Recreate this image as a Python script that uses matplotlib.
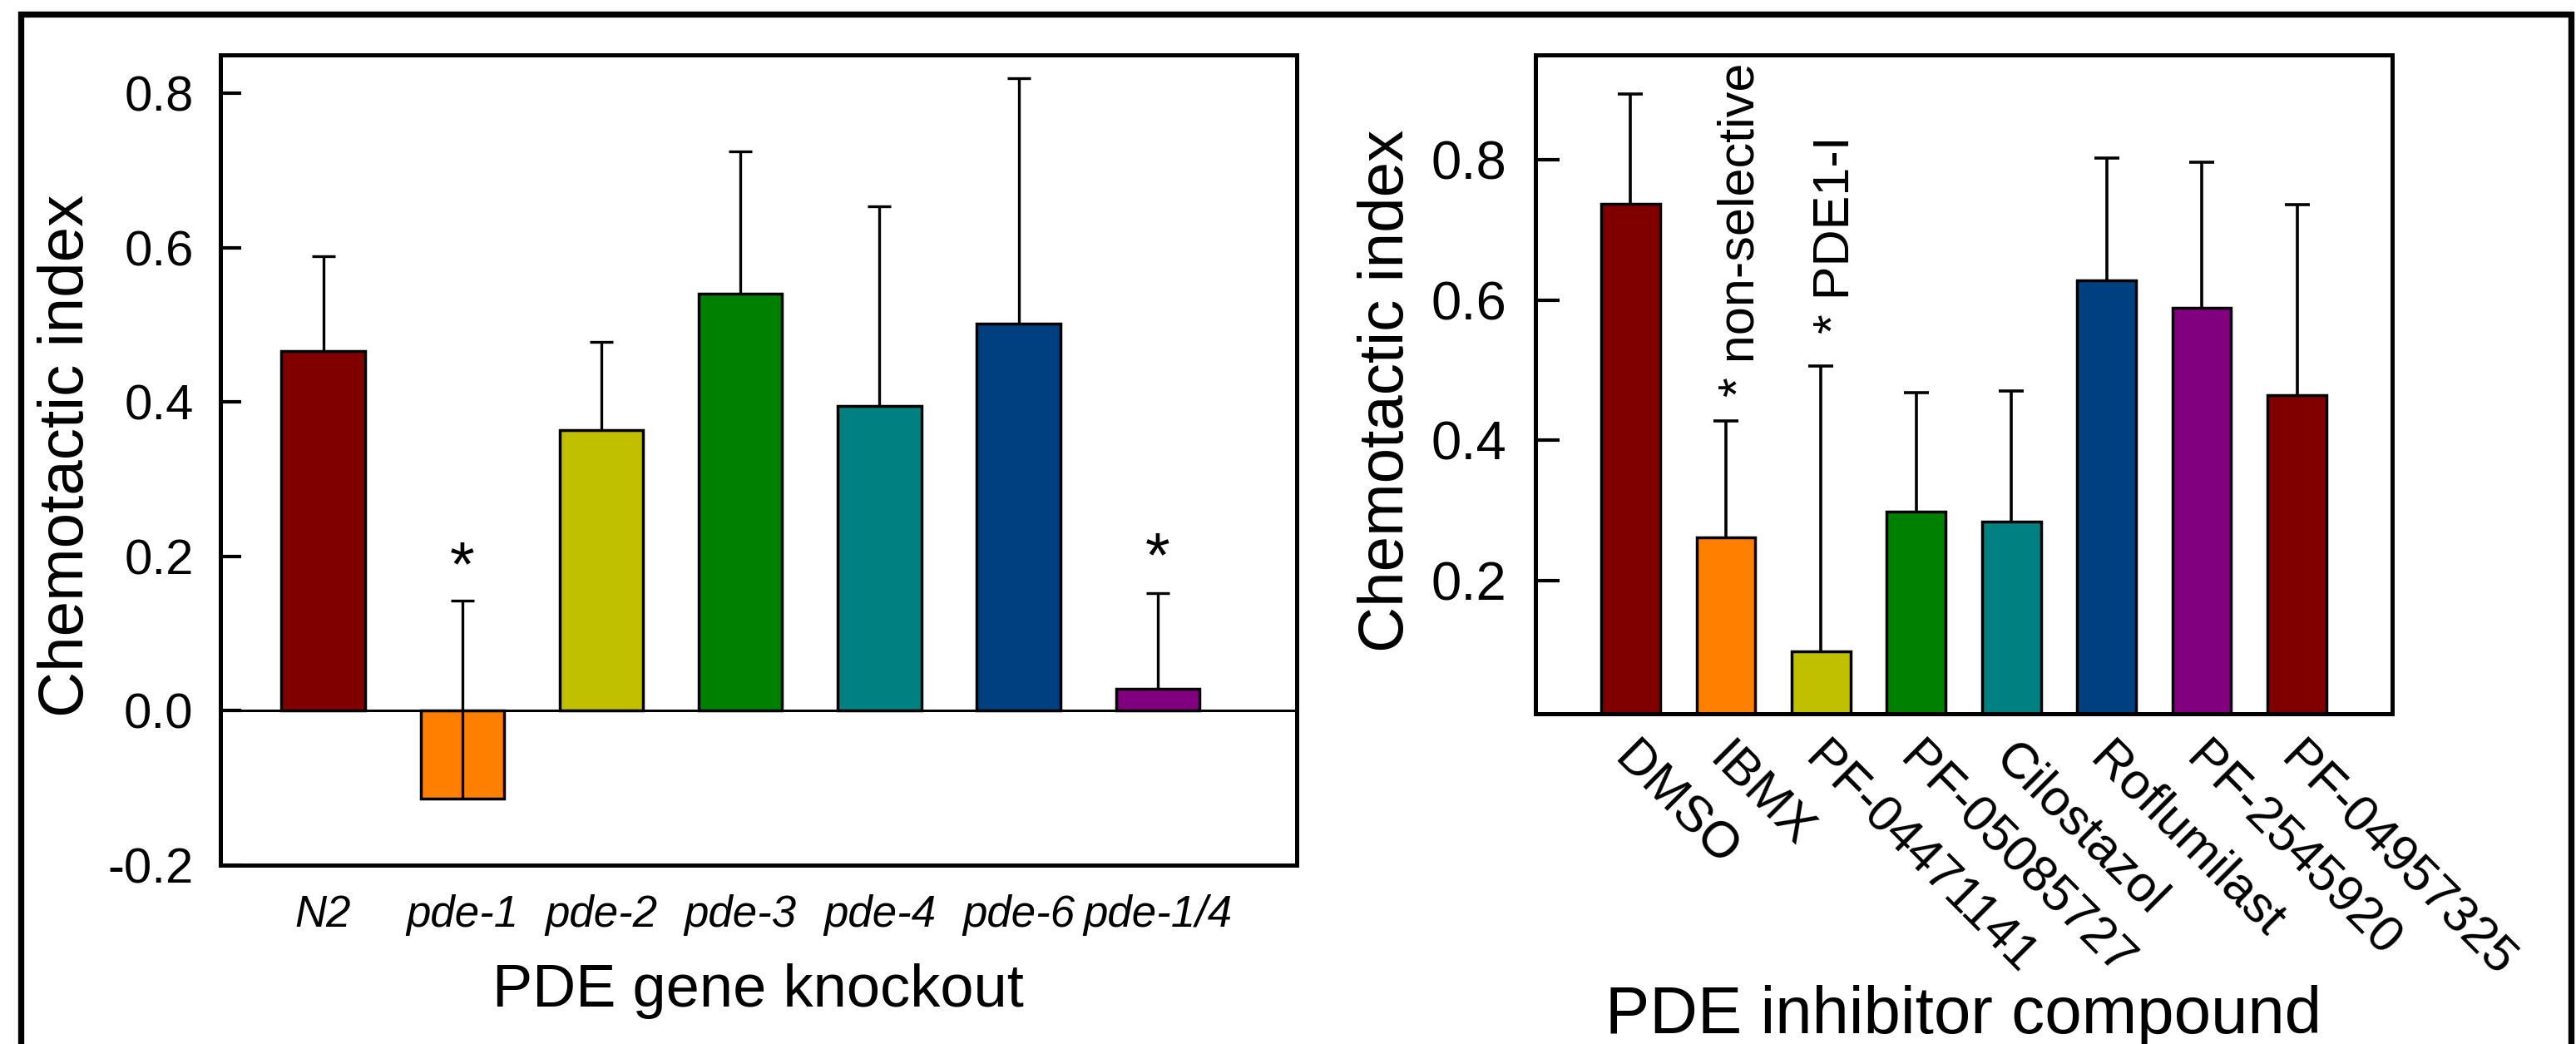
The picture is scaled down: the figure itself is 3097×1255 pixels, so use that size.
import matplotlib
matplotlib.use('Agg')
import matplotlib.pyplot as plt
import numpy as np
from matplotlib.lines import Line2D
from matplotlib.transforms import ScaledTranslation

plt.rcParams['font.family'] = ['Liberation Sans', 'DejaVu Sans']

# ---------------- Data: left panel (gene knockouts) ----------------
ko_labels = ['N2', 'pde-1', 'pde-2', 'pde-3', 'pde-4', 'pde-6', 'pde-1/4']
ko_values = [0.466, -0.114, 0.364, 0.540, 0.395, 0.501, 0.028]
ko_err_top = [0.589, 0.143, 0.478, 0.724, 0.653, 0.819, 0.152]
ko_colors = ['#800000', '#FF8000', '#C0C000', '#008000', '#008080', '#004080', '#800080']
ko_sig = ['', '*', '', '', '', '', '*']
ko_sig_y = [0.0, 0.163, 0.0, 0.0, 0.0, 0.0, 0.175]
ko_yticks = [-0.2, 0.0, 0.2, 0.4, 0.6, 0.8]
ko_yticklabels = ['-0.2', '0.0', '0.2', '0.4', '0.6', '0.8']

# ---------------- Data: right panel (inhibitors) ----------------
inh_labels = ['DMSO', 'IBMX', 'PF-04471141', 'PF-05085727', 'Cilostazol',
              'Roflumilast', 'PF-2545920', 'PF-04957325']
inh_values = [0.737, 0.262, 0.099, 0.299, 0.284, 0.628, 0.589, 0.465]
inh_err_top = [0.894, 0.428, 0.506, 0.468, 0.470, 0.802, 0.797, 0.736]
inh_colors = ['#800000', '#FF8000', '#C0C000', '#008000', '#008080',
              '#004080', '#800080', '#800000']
inh_notes = ['', '* non-selective', '* PDE1-I', '', '', '', '', '']
inh_note_y = [0.0, 0.462, 0.552, 0.0, 0.0, 0.0, 0.0, 0.0]
inh_yticks = [0.2, 0.4, 0.6, 0.8]
inh_yticklabels = ['0.2', '0.4', '0.6', '0.8']

W, H = 3097, 1255
fig = plt.figure(figsize=(W / 100, H / 100), dpi=100)
fig.patch.set_facecolor('white')

axL = fig.add_axes([264.5 / W, 1 - 1040 / H, (1559 - 264.5) / W, (1040 - 65.5) / H])
axR = fig.add_axes([1846 / W, 1 - 857.6 / H, (2876 - 1846) / W, (857.6 - 65.5) / H])


def draw_bars(ax, values, tops, colors, width, capsize, elw):
    x = np.arange(len(values))
    vals = np.array(values)
    ax.bar(x, vals, width=width, color=colors, edgecolor='black',
           linewidth=2.5, zorder=2)
    up = np.array(tops) - vals
    eb = ax.errorbar(x, vals, yerr=[np.zeros_like(up), up], fmt='none',
                     ecolor='black', elinewidth=elw, capsize=capsize,
                     capthick=elw, zorder=3)
    for cl in eb[1]:
        if np.allclose(cl.get_ydata(), vals):
            cl.set_visible(False)
    return x


# ---------------- Left panel ----------------
xL = draw_bars(axL, ko_values, ko_err_top, ko_colors, 0.60, 10, 2.4)
axL.axhline(0, color='black', lw=2.2, zorder=2.5)
axL.set_xlim(-0.742, 7.0)
axL.set_ylim(-0.2, 0.85)
axL.set_yticks(ko_yticks)
axL.set_yticklabels(ko_yticklabels)
axL.set_xticks(xL)
axL.set_xticklabels(ko_labels, fontstyle='italic')
axL.tick_params(axis='y', direction='in', length=18, width=3, labelsize=43, pad=23)
axL.tick_params(axis='x', length=0, labelsize=38, pad=25)
for i, s in enumerate(ko_sig):
    if s:
        axL.text(xL[i], ko_sig_y[i], s, ha='center', va='baseline', fontsize=55, zorder=4)
axL.set_xlabel('PDE gene knockout', fontsize=52)
axL.xaxis.set_label_coords(0.5, -0.121)
axL.set_ylabel('Chemotactic index', fontsize=55)
axL.yaxis.set_label_coords(-0.1147, 0.505)

# ---------------- Right panel ----------------
xR = draw_bars(axR, inh_values, inh_err_top, inh_colors, 0.617, 11, 2.6)
axR.set_xlim(-1.0, 8.0)
axR.set_ylim(0.011, 0.95)
axR.set_yticks(inh_yticks)
axR.set_yticklabels(inh_yticklabels)
axR.set_xticks(xR)
axR.set_xticklabels(inh_labels, rotation=-45, ha='left', va='top',
                    rotation_mode='anchor')
axR.tick_params(axis='y', direction='in', length=21, width=3, labelsize=47, pad=25)
axR.tick_params(axis='x', length=0, labelsize=44, pad=19)
off = ScaledTranslation(9 / 100, 0, fig.dpi_scale_trans)
for lab in axR.get_xticklabels():
    lab.set_transform(lab.get_transform() + off)
for i, s in enumerate(inh_notes):
    if s:
        axR.text(xR[i] + 0.29, inh_note_y[i], s, rotation=90, rotation_mode='anchor',
                 ha='left', va='baseline', fontsize=44, zorder=4)
axR.set_xlabel('PDE inhibitor compound', fontsize=57.5)
axR.xaxis.set_label_coords(0.5, -0.412)
axR.set_ylabel('Chemotactic index', fontsize=55)
axR.yaxis.set_label_coords(-0.1388, 0.49)

for ax in (axL, axR):
    for sp in ax.spines.values():
        sp.set_linewidth(3.6)
    ax.set_facecolor('white')

# outer frame (open at the bottom)
fx1, fx2, fy = 25 / W, 3091 / W, 1 - 17 / H
fig.add_artist(Line2D([fx1, fx1, fx2, fx2], [-0.05, fy, fy, -0.05],
                      transform=fig.transFigure, color='black', lw=5.3,
                      solid_joinstyle='miter'))

fig.savefig('out.png', dpi=100, facecolor='white')
